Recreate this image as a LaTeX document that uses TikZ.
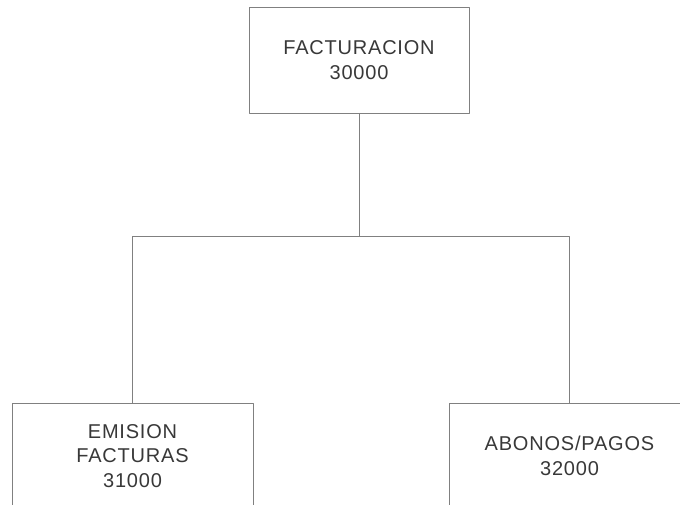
\documentclass[tikz,border=0pt]{standalone}
\usepackage{fontspec}
\setmainfont[LetterSpace=4]{Liberation Sans}
\definecolor{linea}{HTML}{808080}
\definecolor{texto}{HTML}{383838}
\begin{document}
\begin{tikzpicture}
	[x=1pt, y=-1pt, line join=round, line cap=round,
	caja/.style={draw=linea, line width=0.8pt, align=center, text=texto,
		font=\fontsize{20}{24.5}\selectfont, inner sep=0pt},
	rama/.style={draw=linea, line width=0.8pt}]
	\clip (0,0) rectangle (680,505);
	\node[caja, minimum width=220pt, minimum height=106pt] (fac) at (359,60) {FACTURACION\\30000};
	\node[caja, minimum width=241pt, minimum height=106pt] (emi) at (132.5,456) {EMISION\\FACTURAS\\31000};
	\node[caja, minimum width=241pt, minimum height=106pt] (abo) at (569.5,456) {ABONOS/PAGOS\\32000};
	\coordinate (bar) at (359,236);
	\draw[rama] (fac.south) -- (bar);
	\draw[rama] (bar) -| (emi.north);
	\draw[rama] (bar) -| (abo.north);
\end{tikzpicture}
\end{document}
